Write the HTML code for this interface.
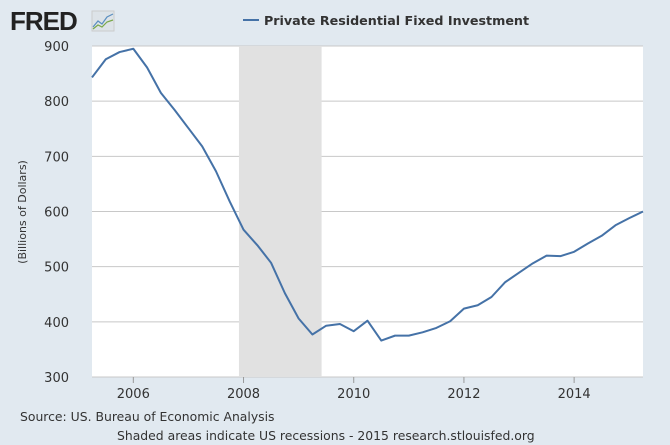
<!DOCTYPE html>
<html><head><meta charset="utf-8"><style>
body{margin:0;background:#e1e9f0;font-family:"DejaVu Sans","Liberation Sans",sans-serif;}
svg{display:block}
</style></head><body>
<svg width="670" height="445">
<rect width="670" height="445" fill="#e1e9f0"/>
<g>
<text x="10" y="30" font-size="26" font-weight="bold" fill="#222" letter-spacing="-1" font-family="Liberation Sans, sans-serif">FRED</text>
<rect x="92" y="11" width="22" height="20" fill="#dde3e8" stroke="#ccc"/>
<polyline points="93,27 98,21 102,24 107,17 113,14" fill="none" stroke="#5b8fc0" stroke-width="1.2"/>
<polyline points="93,29 98,25 102,27 107,22 113,20" fill="none" stroke="#7aa84a" stroke-width="1.2"/>
</g>
<g>
<line x1="243" y1="20" x2="259" y2="20" stroke="#4572a7" stroke-width="2"/>
<text x="264" y="25" font-size="12.7" font-weight="bold" fill="#333">Private Residential Fixed Investment</text>
</g>
<rect x="92" y="46" width="551" height="331" fill="#fff"/>
<g id="grid"></g><g id="rec"></g><g id="axes"></g><g id="series"></g>
<text transform="translate(26,212) rotate(-90)" text-anchor="middle" font-size="11" fill="#333">(Billions of Dollars)</text>
<text x="20" y="421" font-size="12.4" fill="#333">Source: US. Bureau of Economic Analysis</text>
<text x="117" y="440" font-size="12.4" fill="#333">Shaded areas indicate US recessions - 2015 research.stlouisfed.org</text>
</svg>
<script>
const years=[2005.25,2005.5,2005.75,2006,2006.25,2006.5,2006.75,2007,2007.25,2007.5,2007.75,2008,2008.25,2008.5,2008.75,2009,2009.25,2009.5,2009.75,2010,2010.25,2010.5,2010.75,2011,2011.25,2011.5,2011.75,2012,2012.25,2012.5,2012.75,2013,2013.25,2013.5,2013.75,2014,2014.25,2014.5,2014.75,2015,2015.25];
const values=[843,876,889,895,861,815,784,751,718,673,618,567,539,507,452,406,377,393,396,383,402,366,375,375,381,389,401,424,430,445,472,489,506,520,519,527,542,556,575,588,600];
const yTicks=[300,400,500,600,700,800,900];
const xTicks=[2006,2008,2010,2012,2014];
const recession=[2007.917,2009.417];
const ns="http://www.w3.org/2000/svg";
const X=v=>92+(v-2005.25)*551/10, Y=v=>377-(v-300)*331/600;
function mk(t,a,p){const e=document.createElementNS(ns,t);for(const k in a)e.setAttribute(k,a[k]);document.getElementById(p).appendChild(e);return e;}
const r=mk('rect',{x:X(recession[0]),y:46,width:X(recession[1])-X(recession[0]),height:331,fill:'#e1e1e1'},'rec');


yTicks.forEach(v=>{
 const l=mk('line',{x1:92,x2:643,y1:Y(v),y2:Y(v),stroke:'#c8c8c8'},'grid');
 
 
 const t=mk('text',{x:69,y:Y(v)+5,'text-anchor':'end','font-size':13,fill:'#333'},'axes');
 t.textContent=v;
 
 
});
xTicks.forEach(v=>{
 const l=mk('line',{x1:X(v),x2:X(v),y1:377,y2:383,stroke:'#999'},'axes');
 
 
 const t=mk('text',{x:X(v),y:398,'text-anchor':'middle','font-size':13,fill:'#333'},'axes');
 t.textContent=v;
 
 
});
const p=mk('polyline',{points:years.map((y,i)=>X(y)+','+Y(values[i])).join(' '),fill:'none',stroke:'#4572a7','stroke-width':2,'stroke-linejoin':'round'},'series');


</script>
</body></html>
